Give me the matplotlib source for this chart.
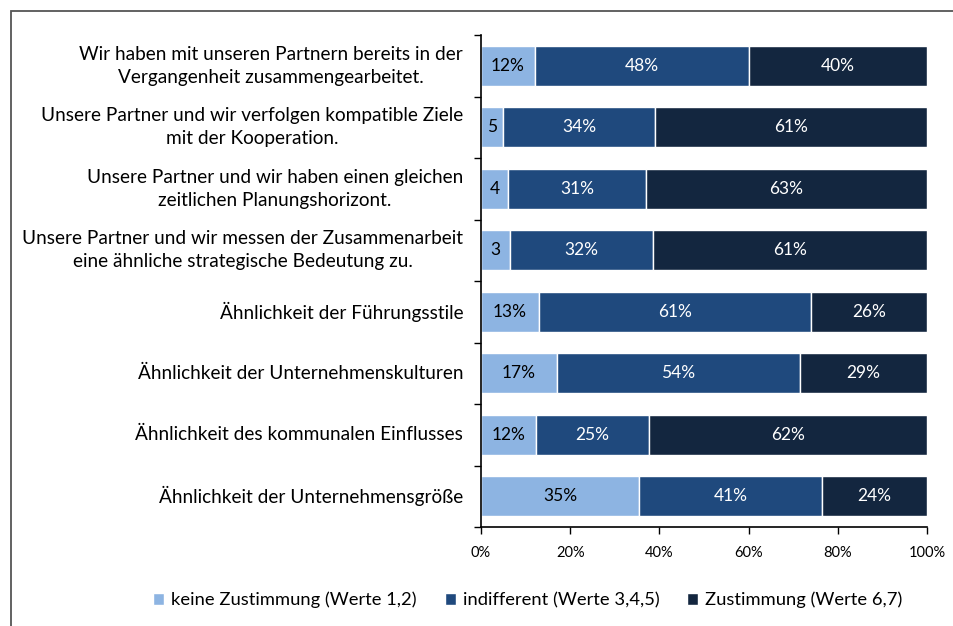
import matplotlib
matplotlib.use("Agg")
import matplotlib.pyplot as plt
from matplotlib.patches import Rectangle
import numpy as np

plt.rcParams['font.family'] = ['Lato', 'DejaVu Sans']

categories = [
    "Wir haben mit unseren Partnern bereits in der\nVergangenheit zusammengearbeitet.",
    "Unsere Partner und wir verfolgen kompatible Ziele\nmit der Kooperation.",
    "Unsere Partner und wir haben einen gleichen\nzeitlichen Planungshorizont.",
    "Unsere Partner und wir messen der Zusammenarbeit\neine ähnliche strategische Bedeutung zu.",
    "Ähnlichkeit der Führungsstile",
    "Ähnlichkeit der Unternehmenskulturen",
    "Ähnlichkeit des kommunalen Einflusses",
    "Ähnlichkeit der Unternehmensgröße",
]
keine = [12, 5, 6, 6.5, 13, 17, 12.4, 35.4]
indifferent = [48, 34, 31, 32, 61, 54.5, 25.2, 41]
zustimmung = [40, 61, 63, 61.5, 26, 28.5, 62.4, 23.6]
keine_labels = ["12%", "5", "4", "3", "13%", "17%", "12%", "35%"]
indiff_labels = ["48%", "34%", "31%", "32%", "61%", "54%", "25%", "41%"]
zust_labels = ["40%", "61%", "63%", "61%", "26%", "29%", "62%", "24%"]
series_names = ["keine Zustimmung (Werte 1,2)", "indifferent (Werte 3,4,5)", "Zustimmung (Werte 6,7)"]
colors = ["#8DB4E2", "#1F497D", "#13263F"]
xticks = [0, 20, 40, 60, 80, 100]

W, H = 954, 626
fig = plt.figure(figsize=(W/100, H/100), dpi=100)
ax = fig.add_axes([481/W, 1-527/H, (927-481)/W, (527-35)/H])

# frame around chart
fig.patches.append(Rectangle((11/W, -0.1), 1.2, 1 - 11/H + 0.1, transform=fig.transFigure,
                             fill=False, edgecolor="#555555", linewidth=1.3))

n = len(categories)
y = np.arange(n)
data = [keine, indifferent, zustimmung]
labels = [keine_labels, indiff_labels, zust_labels]
txtcol = ["black", "white", "white"]
left = np.zeros(n)
handles = []
for i in range(3):
    vals = np.array(data[i], dtype=float)
    b = ax.barh(y, vals, left=left, height=0.645, color=colors[i], edgecolor="white",
                linewidth=1.0, label=series_names[i])
    handles.append(b)
    for j in range(n):
        ax.text(left[j] + vals[j] / 2, y[j], labels[i][j], ha="center", va="center",
                color=txtcol[i], fontsize=12.5)
    left += vals

ax.set_xlim(0, 100)
ax.set_ylim(n - 0.5, -0.5)
ax.set_xticks(xticks)
ax.set_xticklabels([f"{v}%" for v in xticks], fontsize=10.5)
ax.set_yticks(np.arange(-0.5, n, 1.0))
ax.set_yticklabels([])
ax.tick_params(axis="y", direction="out", length=5, width=1)
ax.tick_params(axis="x", direction="out", length=5, width=1, pad=9)
for i, c in enumerate(categories):
    ax.text(-0.04, i, c, transform=ax.get_yaxis_transform(), ha="right", va="center",
            multialignment="center", fontsize=13.7, linespacing=1.45)
for s in ["top", "right"]:
    ax.spines[s].set_visible(False)
ax.spines["left"].set_linewidth(1.2)
ax.spines["bottom"].set_linewidth(1.2)

fig.legend(handles=handles, loc="center", bbox_to_anchor=(528/W, 1-600/H), ncol=3,
           frameon=False, fontsize=13.2, handlelength=0.6, handleheight=0.6,
           handletextpad=0.4, columnspacing=1.5)

fig.savefig("out.png", dpi=100)
